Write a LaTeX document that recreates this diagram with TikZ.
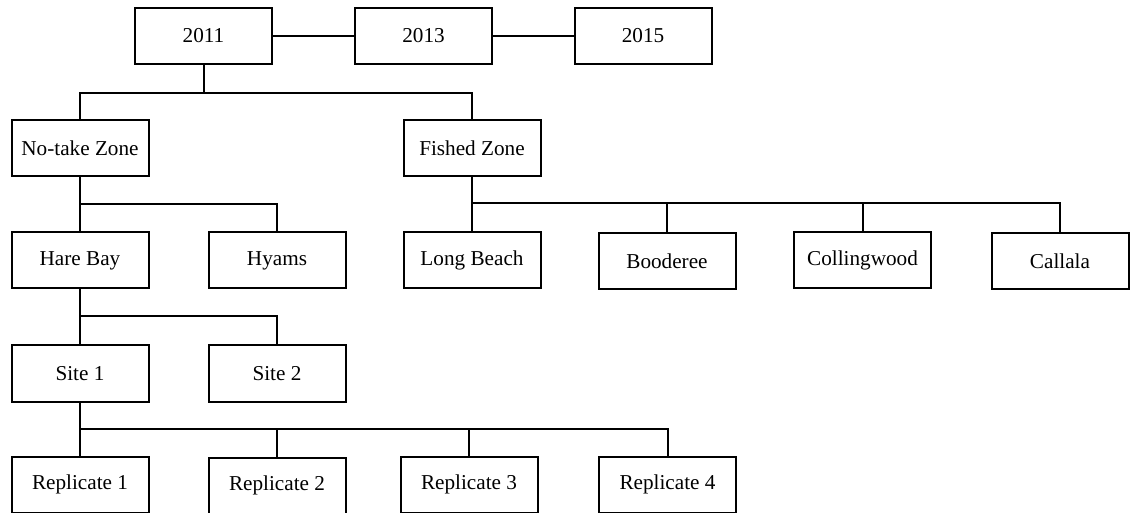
\documentclass[tikz,border=0pt]{standalone}
\usepackage{fontspec}
\setmainfont{Liberation Serif}
\usepackage{tikz}

\begin{document}
\begin{tikzpicture}[x=0.5pt, y=-0.5pt, line width=1pt,
        box/.style={draw, minimum width=68.5pt, minimum height=28pt, inner sep=0pt,
                    font=\fontsize{10.6}{12}\selectfont}]
        % Page frame
        \useasboundingbox (0,0) rectangle (1130,513);

        % Survey years
        \node[box] (y2011) at (203.5,36) {2011};
        \node[box] (y2013) at (423.5,36) {2013};
        \node[box] (y2015) at (643,36) {2015};

        % Zones
        \node[box] (notake) at (80,148) {No-take Zone};
        \node[box] (fished) at (472,148.5) {Fished Zone};

        % Locations
        \node[box] (harebay) at (80,260.5) {Hare Bay};
        \node[box] (hyams) at (277,260.5) {Hyams};
        \node[box] (longbeach) at (472,260.5) {Long Beach};
        \node[box] (booderee) at (667,261.5) {Booderee};
        \node[box] (collingwood) at (862.5,260.5) {Collingwood};
        \node[box] (callala) at (1060,261.5) {Callala};

        % Sites
        \node[box] (site1) at (80,373.5) {Site 1};
        \node[box] (site2) at (277,373.5) {Site 2};

        % Replicates
        \node[box] (rep1) at (80,484.5) {Replicate 1};
        \node[box] (rep2) at (277,485.5) {Replicate 2};
        \node[box] (rep3) at (469,484.5) {Replicate 3};
        \node[box] (rep4) at (667.5,484.5) {Replicate 4};

        % Bus levels
        \coordinate (busA) at (0,93);
        \coordinate (busB) at (0,203);
        \coordinate (busC) at (0,204);
        \coordinate (busD) at (0,316);
        \coordinate (busE) at (0,429);

        % Year links
        \draw (y2011) -- (y2013);
        \draw (y2013) -- (y2015);

        % Year to zones
        \draw (y2011.south) -- (y2011.south |- busA);
        \draw (notake.north) |- (fished.north |- busA) -- (fished.north);

        % No-take zone to locations
        \draw (notake.south) |- (hyams.north |- busC) -- (hyams.north);
        \draw (notake.south) -- (harebay.north);

        % Fished zone to locations
        \draw (fished.south) |- (callala.north |- busB) -- (callala.north);
        \draw (fished.south) -- (longbeach.north);
        \draw (booderee.north) -- (booderee.north |- busB);
        \draw (collingwood.north) -- (collingwood.north |- busB);

        % Location to sites
        \draw (harebay.south) |- (site2.north |- busD) -- (site2.north);
        \draw (harebay.south) -- (site1.north);

        % Site to replicates
        \draw (site1.south) |- (rep4.north |- busE) -- (rep4.north);
        \draw (site1.south) -- (rep1.north);
        \draw (rep2.north) -- (rep2.north |- busE);
        \draw (rep3.north) -- (rep3.north |- busE);
    \end{tikzpicture}
\end{document}
